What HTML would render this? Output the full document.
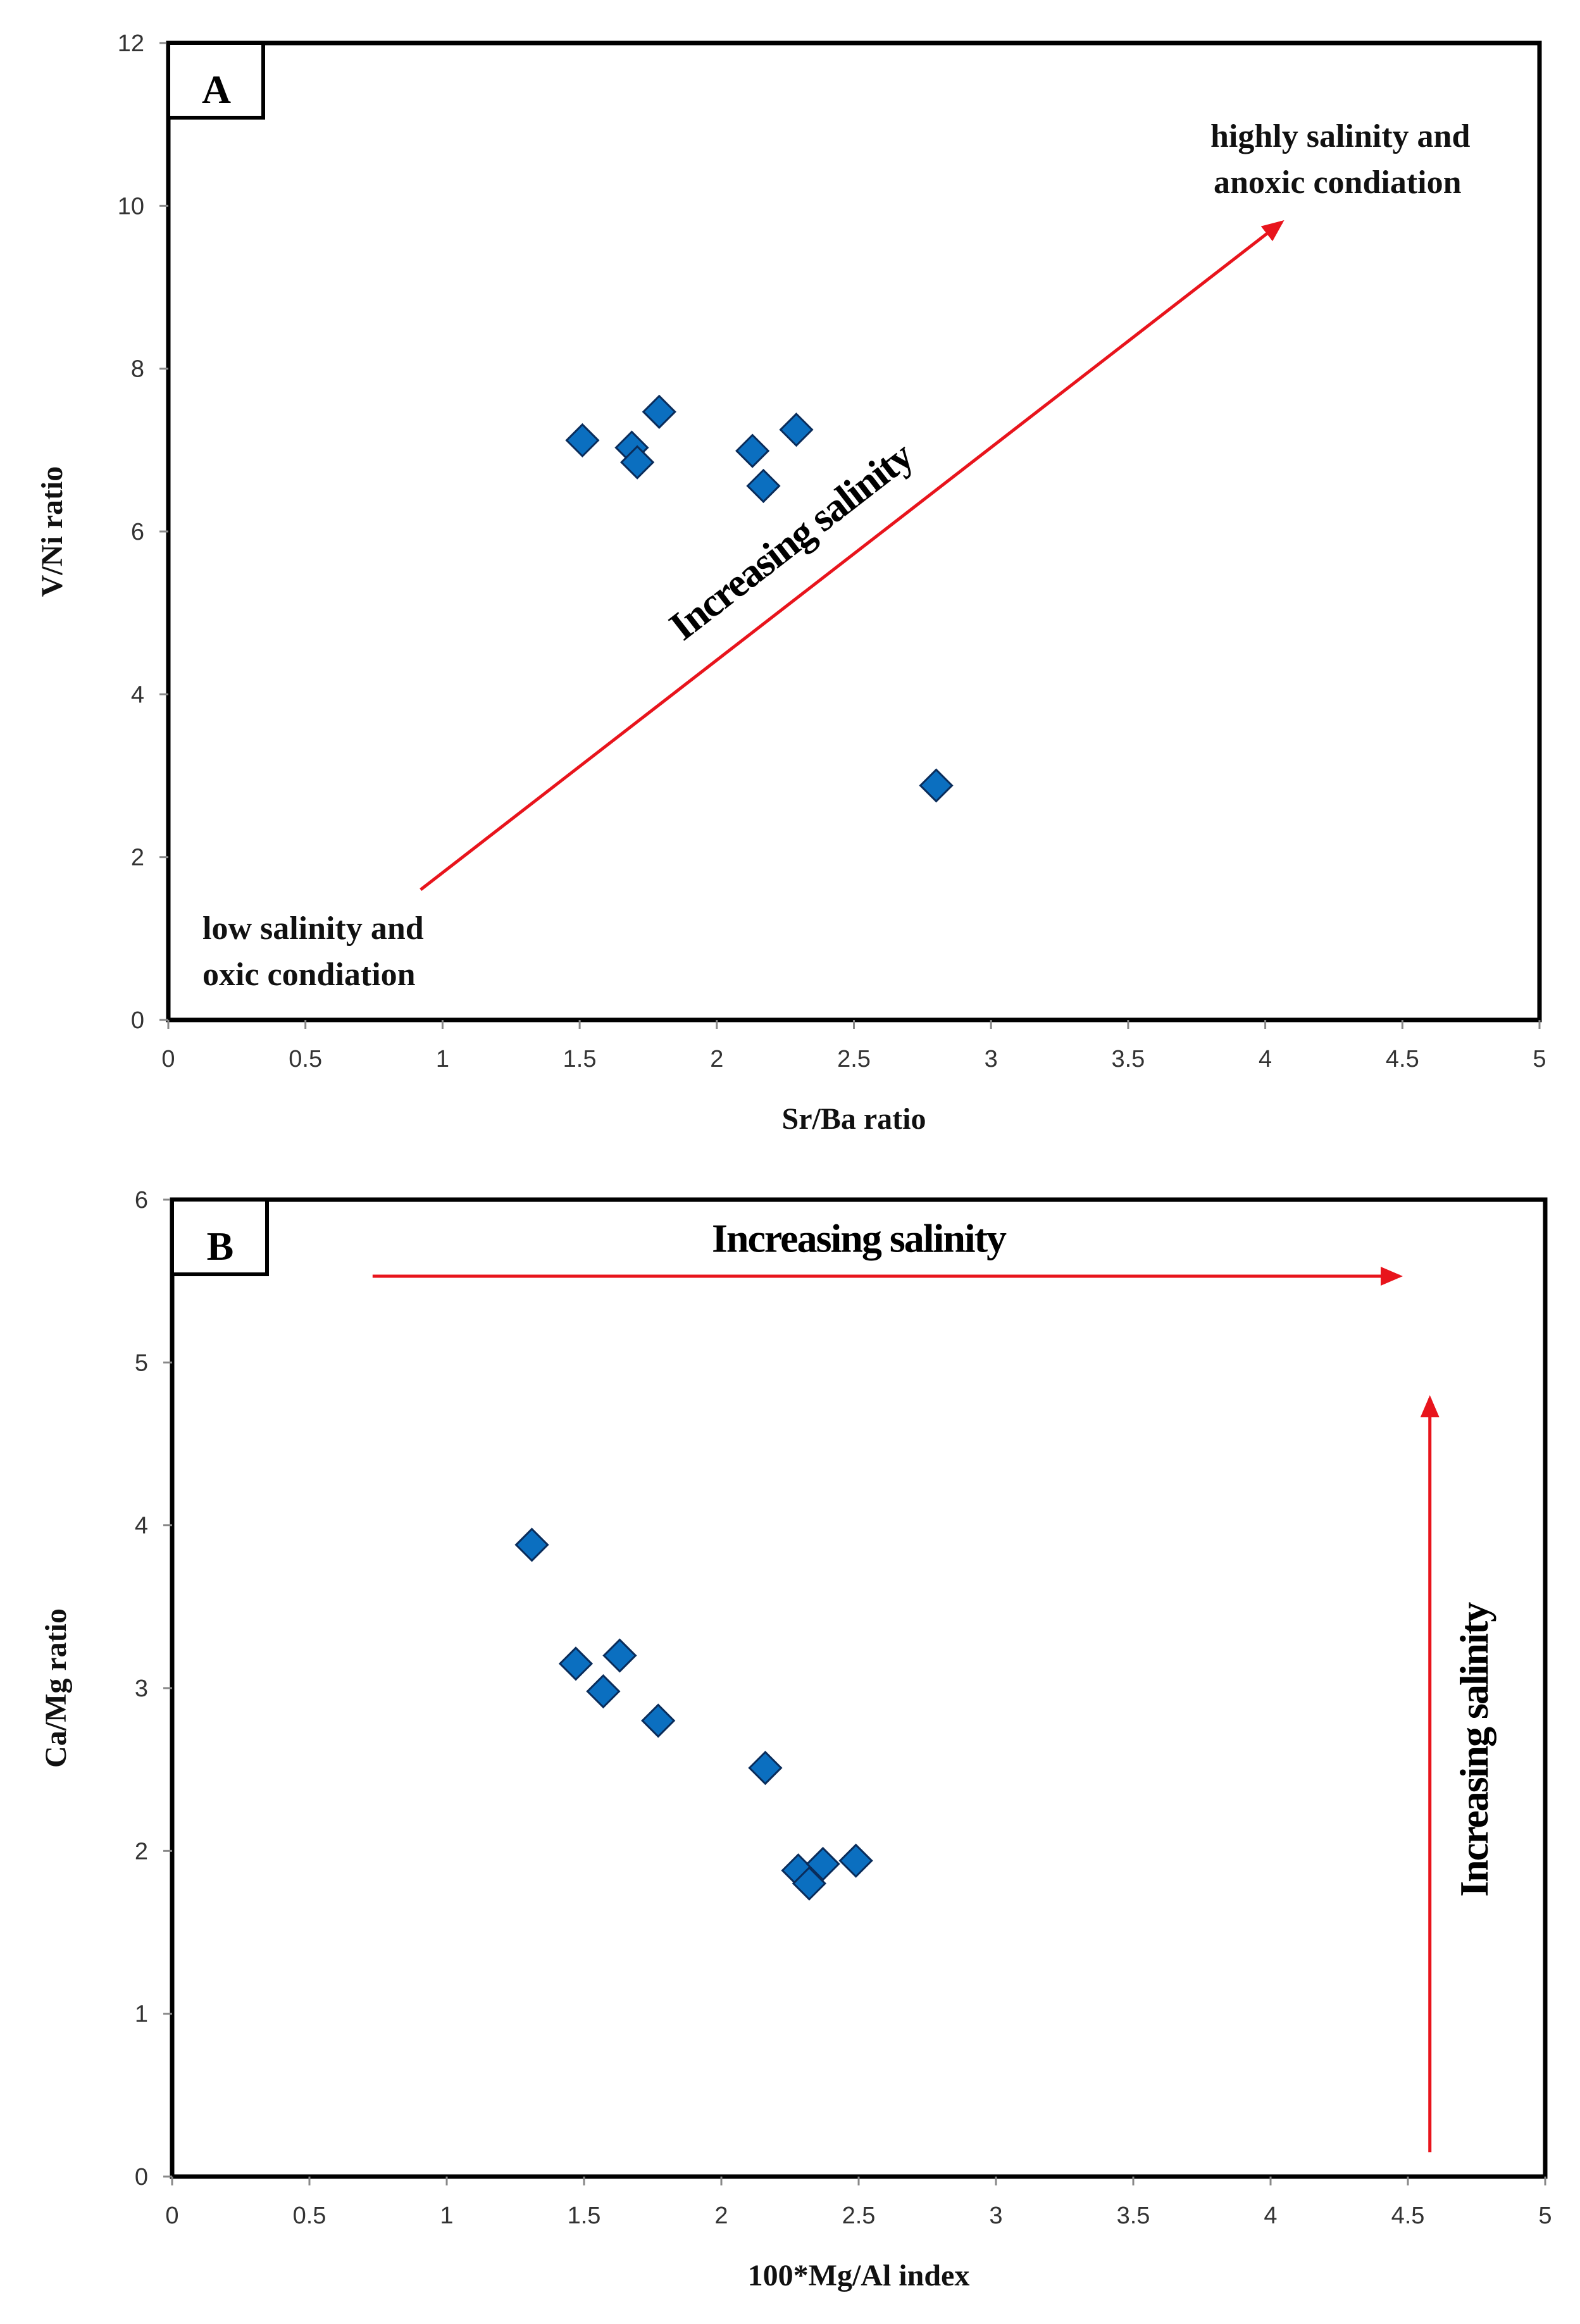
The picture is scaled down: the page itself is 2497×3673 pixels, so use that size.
<!DOCTYPE html>
<html><head><meta charset="utf-8"><style>
html,body{margin:0;padding:0;background:#fff}
svg{display:block}
.tick{font-family:"Liberation Sans",sans-serif;font-size:38px;fill:#333}
.ttl{font-family:"Liberation Serif",serif;font-weight:bold;font-size:48px;fill:#111}
.ann{font-family:"Liberation Serif",serif;font-weight:bold;font-size:52px;fill:#111}
.big{font-family:"Liberation Serif",serif;font-weight:bold;font-size:64px;fill:#000;letter-spacing:-2px}
</style></head><body>
<svg id="s" width="2497" height="3673" xmlns="http://www.w3.org/2000/svg">
<defs>
<marker id="ah" markerWidth="8" markerHeight="8" refX="6" refY="4" orient="auto" markerUnits="strokeWidth"><path d="M0,1 L7,4 L0,7 z" fill="#e8141c"/></marker>
</defs>
<g id="ga"></g>
<g id="gb"></g>
</svg>
<script>
const aX=[1.51,1.69,1.71,1.79,2.13,2.17,2.29,2.80];
const aY=[7.12,7.03,6.85,7.47,6.99,6.56,7.25,2.88];
const aXTicks=[0,0.5,1,1.5,2,2.5,3,3.5,4,4.5,5];
const aYTicks=[0,2,4,6,8,10,12];
const bX=[1.31,1.47,1.63,1.57,1.77,2.16,2.28,2.37,2.32,2.49];
const bY=[3.88,3.15,3.20,2.98,2.80,2.51,1.88,1.92,1.80,1.94];
const bXTicks=[0,0.5,1,1.5,2,2.5,3,3.5,4,4.5,5];
const bYTicks=[0,1,2,3,4,5,6];
const NS="http://www.w3.org/2000/svg";
function mk(p,tag,at,txt){const e=document.createElementNS(NS,tag);for(const k in at)e.setAttribute(k,at[k]);if(txt!==undefined)e.textContent=txt;p.appendChild(e);return e;}
function chart(g,L,R,T,B,xmax,ymax,xs,ys,xt,yt,letter,xtitle,ytitle){
  const sx=v=>L+(R-L)*v/xmax, sy=v=>B-(B-T)*v/ymax;
  const fr=mk(g,'rect',{x:L,y:T,width:R-L,height:B-T,fill:'none',stroke:'#000','stroke-width':7});
  
  
  xt.forEach(v=>{
    const t=mk(g,'line',{x1:sx(v),x2:sx(v),y1:B,y2:B+14,stroke:'#888','stroke-width':3});
    
    
    const l=mk(g,'text',{x:sx(v),y:B+74,'text-anchor':'middle',class:'tick'},String(v));
    
    
  });
  yt.forEach(v=>{
    const t=mk(g,'line',{x1:L-14,x2:L,y1:sy(v),y2:sy(v),stroke:'#888','stroke-width':3});
    
    
    const l=mk(g,'text',{x:L-38,y:sy(v)+13,'text-anchor':'end',class:'tick'},String(v));
    
    
  });
  const bx=mk(g,'rect',{x:L,y:T,width:150,height:118,fill:'#fff',stroke:'#000','stroke-width':6});
  
  
  const lt=mk(g,'text',{x:L+75,y:T+95,'text-anchor':'middle',class:'big','font-size':'90'},letter);
  
  
  const xtl=mk(g,'text',{x:(L+R)/2,y:B+172,'text-anchor':'middle',class:'ttl'},xtitle);
  
  
  const cy=(T+B)/2;
  const yx=L-168;
  const ytl=mk(g,'text',{x:yx,y:cy,'text-anchor':'middle',class:'ttl',transform:`rotate(-90 ${yx} ${cy})`},ytitle);
  
  
  xs.forEach((v,i)=>{
    const x=sx(v),y=sy(ys[i]),r=25;
    const d=mk(g,'path',{d:`M${x},${y-r} L${x+r},${y} L${x},${y+r} L${x-r},${y} Z`,fill:'#0b6fc0',stroke:'#0a2c5a','stroke-width':3});
    
    
  });
  return {sx,sy};
}
const ga=document.getElementById('ga'),gb=document.getElementById('gb');
const A=chart(ga,266,2433,68,1612,5,12,aX,aY,aXTicks,aYTicks,'A','Sr/Ba ratio','V/Ni ratio');
let e=mk(ga,'line',{x1:A.sx(0.92),y1:A.sy(1.6),x2:A.sx(4.06),y2:A.sy(9.8),stroke:'#e8141c','stroke-width':5,'marker-end':'url(#ah)'});


const ang=-Math.atan2(A.sy(1.6)-A.sy(9.8),A.sx(4.06)-A.sx(0.92))*180/Math.PI;
e=mk(ga,'text',{x:A.sx(2.3),y:A.sy(5.75),'text-anchor':'middle',class:'big','font-size':'68',transform:`rotate(${ang} ${A.sx(2.3)} ${A.sy(5.75)})`},'Increasing salinity');


e=mk(ga,'text',{x:1913,y:232,class:'ann'},'highly salinity and');


e=mk(ga,'text',{x:1918,y:305,class:'ann'},'anoxic condiation');


e=mk(ga,'text',{x:320,y:1484,class:'ann'},'low salinity and');


e=mk(ga,'text',{x:320,y:1557,class:'ann'},'oxic condiation');



const Bc=chart(gb,272,2442,1896,3440,5,6,bX,bY,bXTicks,bYTicks,'B','100*Mg/Al index','Ca/Mg ratio');
e=mk(gb,'line',{x1:Bc.sx(0.73),y1:Bc.sy(5.53),x2:Bc.sx(4.47),y2:Bc.sy(5.53),stroke:'#e8141c','stroke-width':5,'marker-end':'url(#ah)'});


e=mk(gb,'text',{x:Bc.sx(2.5),y:Bc.sy(5.68),'text-anchor':'middle',class:'big'},'Increasing salinity');


e=mk(gb,'line',{x1:Bc.sx(4.58),y1:Bc.sy(0.15),x2:Bc.sx(4.58),y2:Bc.sy(4.78),stroke:'#e8141c','stroke-width':5,'marker-end':'url(#ah)'});


const vx=Bc.sx(4.79),vy=Bc.sy(2.62);
e=mk(gb,'text',{x:vx,y:vy,'text-anchor':'middle',class:'big',transform:`rotate(-90 ${vx} ${vy})`},'Increasing salinity');


</script>
</body></html>
